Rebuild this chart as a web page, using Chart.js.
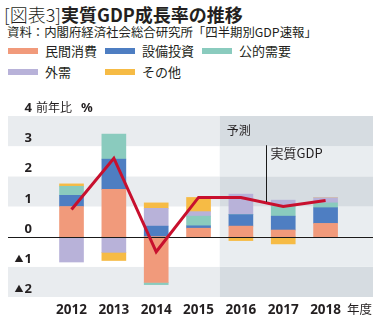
<!DOCTYPE html>
<html lang="ja">
<head>
<meta charset="utf-8">
<script src="https://cdn.jsdelivr.net/npm/chart.js@4"></script>
<style>
  html, body { margin: 0; padding: 0; background: #fff; }
  body { width: 380px; height: 321px; position: relative; overflow: hidden;
         font-family: "Noto Sans CJK JP", "Noto Sans", sans-serif; color: #231f20; }
  #titulo { position: absolute; left: 4px; top: 1px; font-size: 18px; font-weight: 300; white-space: nowrap; }
  #titulo b { font-weight: 700; }
  #fonte { position: absolute; left: 7px; top: 23px; font-size: 12.4px; white-space: nowrap; }
  .leg-item { position: absolute; height: 16px; font-size: 13px; line-height: 16px; white-space: nowrap; }
  .leg-item i { position: absolute; left: 0; top: 5px; width: 30px; height: 6px; }
  .leg-item span { position: absolute; left: 37px; top: 0; }
  #grafico { position: absolute; left: 0; top: 86px; }
</style>
</head>
<body>
<div id="titulo">[図表3]<b>実質GDP成長率の推移</b></div>
<div id="fonte">資料：内閣府経済社会総合研究所「四半期別GDP速報」</div>
<div id="legenda"></div>
<canvas id="grafico" width="380" height="235"></canvas>

<script>
// ---------------------------------------------------------------------------
// dados (寄与度, %)
// ---------------------------------------------------------------------------
const anos = [2012, 2013, 2014, 2015, 2016, 2017, 2018];

const consumoPrivado = [1.0, 1.57, -1.52, 0.28, 0.35, 0.22, 0.44];   // 民間消費
const investimento   = [0.37, 1.0, 0.35, 0.08, 0.38, 0.46, 0.52];    // 設備投資
const demandaPublica = [0.3, 0.83, -0.07, 0.32, 0, 0.33, 0.16];      // 公的需要
const demandaExterna = [-0.84, -0.52, 0.59, 0.15, 0.68, 0.2, 0.17];  // 外需
const outros         = [0.08, -0.27, 0.18, 0.47, -0.13, -0.24, 0];   // その他
const pibReal        = [0.9, 2.6, -0.5, 1.3, 1.3, 1.0, 1.2];         // 実質GDP

const rotulosY = ['▲2', '▲1', '0', '1', '2', '3', '4'];
const valoresY = [-2, -1, 0, 1, 2, 3, 4];

const series = [
    { nome: '民間消費', dados: consumoPrivado, cor: '#f19a7b' },
    { nome: '設備投資', dados: investimento,   cor: '#4e7ec2' },
    { nome: '公的需要', dados: demandaPublica, cor: '#8acbbe' },
    { nome: '外需',     dados: demandaExterna, cor: '#b8b2d9' },
    { nome: 'その他',   dados: outros,         cor: '#f6bb45' }
];

const inicioPrevisao = 2015.5;
const faixasEscuras = [[3, 4], [1, 2], [-2, -1]];

// ---------------------------------------------------------------------------
// legenda em HTML (3 colunas)
// ---------------------------------------------------------------------------
const legenda = document.getElementById('legenda');
series.forEach((s, i) => {
    const el = document.createElement('div');
    el.className = 'leg-item';
    el.style.left = (8 + (i % 3) * 97) + 'px';
    el.style.top = (43 + Math.floor(i / 3) * 21) + 'px';
    el.innerHTML = `<i style="background:${s.cor}"></i><span>${s.nome}</span>`;
    legenda.appendChild(el);
});

// ---------------------------------------------------------------------------
// plugin: faixas de fundo, linha do zero, rótulos
// ---------------------------------------------------------------------------
const FONTE_NUM = '"Noto Sans", "Noto Sans CJK JP", sans-serif';
const FONTE_JP = '"Noto Sans CJK JP", sans-serif';

const decoracao = {
    id: 'decoracao',
    beforeDatasetsDraw(chart) {
        const { ctx, chartArea: a, scales: { x, y } } = chart;
        const xp = x.getPixelForValue(inicioPrevisao);
        ctx.save();
        for (let v = -2; v < 4; v++) {
            const escura = faixasEscuras.some(f => f[0] === v);
            const top = y.getPixelForValue(v + 1);
            const bot = y.getPixelForValue(v);
            ctx.fillStyle = escura ? '#e9ecef' : '#ffffff';
            ctx.fillRect(a.left, top, xp - a.left, bot - top);
            ctx.fillStyle = escura ? '#d6dce1' : '#e9edf0';
            ctx.fillRect(xp, top, a.right - xp, bot - top);
        }
        ctx.restore();
    },
    beforeDatasetDraw(chart, args) {
        if (args.meta.type !== 'line') return;
        const { ctx, chartArea: a, scales: { y } } = chart;
        const y0 = Math.round(y.getPixelForValue(0)) + 0.5;
        ctx.save();
        ctx.strokeStyle = '#1a1a1a';
        ctx.lineWidth = 1;
        ctx.beginPath();
        ctx.moveTo(a.left, y0);
        ctx.lineTo(a.right, y0);
        ctx.stroke();
        ctx.restore();
    },
    afterDraw(chart) {
        const { ctx, scales: { x, y } } = chart;
        ctx.save();
        ctx.fillStyle = '#231f20';
        ctx.textBaseline = 'alphabetic';

        // eixo Y
        valoresY.forEach((v, i) => {
            const py = y.getPixelForValue(v) - 4;
            const txt = rotulosY[i];
            const num = txt.replace('▲', '');
            ctx.font = 'bold 13px ' + FONTE_NUM;
            ctx.textAlign = 'right';
            ctx.fillText(num, 32, py);
            if (txt.startsWith('▲')) {
                const w = ctx.measureText(num).width;
                ctx.font = '9px ' + FONTE_JP;
                ctx.fillText('▲', 32 - w - 1, py - 1);
            }
        });
        const py4 = y.getPixelForValue(4) - 4;
        ctx.textAlign = 'left';
        ctx.font = '12px ' + FONTE_JP;
        ctx.fillText('前年比', 36, py4);
        ctx.font = 'bold 13px ' + FONTE_NUM;
        ctx.fillText('%', 81, py4);

        // eixo X
        ctx.textAlign = 'center';
        ctx.font = 'bold 13.5px ' + FONTE_NUM;
        anos.forEach(a => ctx.fillText(String(a), x.getPixelForValue(a), 228));
        ctx.textAlign = 'left';
        ctx.font = '12.5px ' + FONTE_JP;
        ctx.fillText('年度', 347, 228);

        // anotações
        ctx.font = '12px ' + FONTE_JP;
        ctx.fillText('予測', x.getPixelForValue(inicioPrevisao) + 7, y.getPixelForValue(3.5) + 4);

        const xa = Math.round(x.getPixelForValue(2016.6)) + 0.5;
        ctx.strokeStyle = '#1a1a1a';
        ctx.lineWidth = 1;
        ctx.beginPath();
        ctx.moveTo(xa, y.getPixelForValue(3.03));
        ctx.lineTo(xa, y.getPixelForValue(1.15));
        ctx.stroke();
        ctx.font = '13px ' + FONTE_JP;
        ctx.fillText('実質GDP', xa + 4, y.getPixelForValue(2.6));

        ctx.restore();
    }
};

// ---------------------------------------------------------------------------
// gráfico
// ---------------------------------------------------------------------------
const datasetsBarras = series.map(s => ({
    type: 'bar',
    label: s.nome,
    data: s.dados,
    backgroundColor: s.cor,
    borderWidth: 0,
    barThickness: 24,
    stack: 'demanda',
    order: 1
}));

new Chart(document.getElementById('grafico'), {
    type: 'bar',
    data: {
        labels: anos,
        datasets: [
            ...datasetsBarras,
            {
                type: 'line',
                label: '実質GDP',
                data: pibReal,
                borderColor: '#c8102e',
                borderWidth: 3,
                pointRadius: 0,
                tension: 0,
                fill: false,
                stack: 'gdp',
                order: 0
            }
        ]
    },
    options: {
        responsive: false,
        animation: false,
        devicePixelRatio: 1,
        layout: { padding: { left: 8, right: 7, top: 30, bottom: 24 } },
        plugins: { legend: { display: false }, tooltip: { enabled: false } },
        scales: {
            x: { type: 'linear', display: false, stacked: true, offset: false, min: 2010.5, max: 2019.12 },
            y: { display: false, stacked: true, min: -2, max: 4 }
        }
    },
    plugins: [decoracao]
});
</script>
</body>
</html>
